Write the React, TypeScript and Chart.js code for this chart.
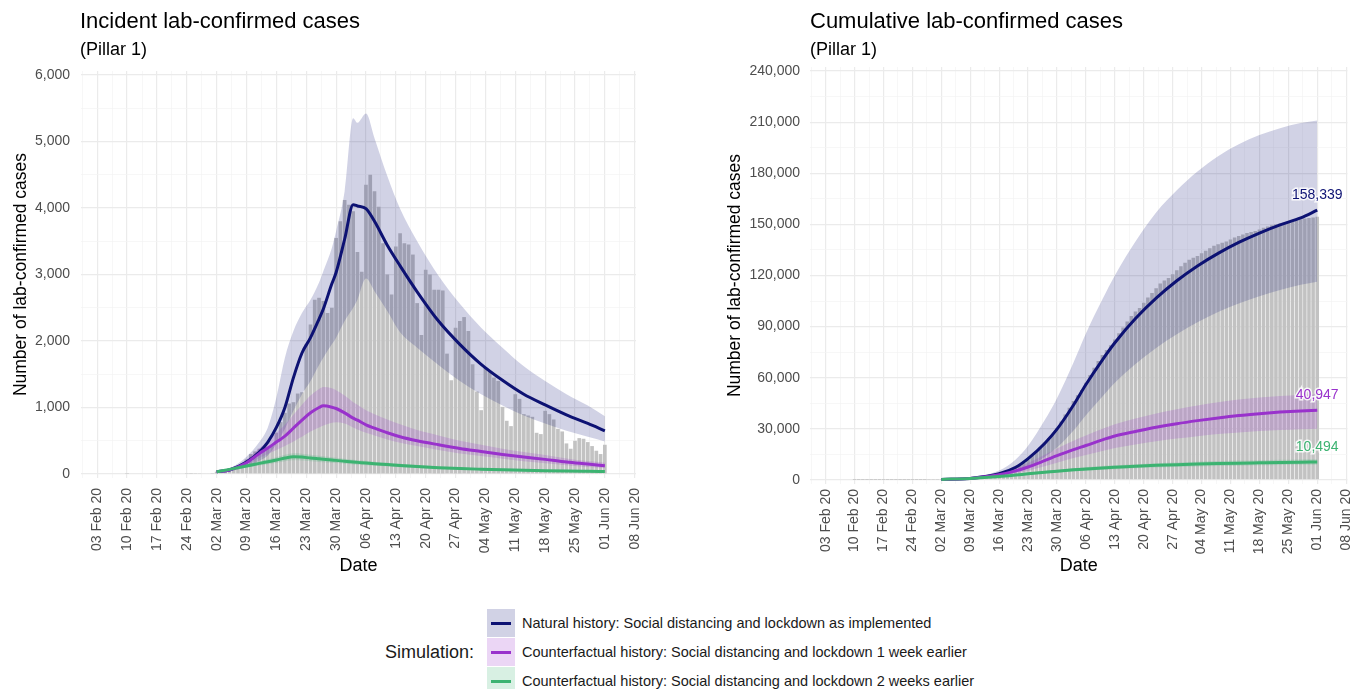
import React, { useEffect, useRef } from 'react';
import { Chart, registerables } from 'chart.js';
Chart.register(...registerables);

const FONT = '"Liberation Sans", Arial, Helvetica, sans-serif';
Chart.defaults.font.family = FONT;
Chart.defaults.color = '#4d4d4d';

// ---- x axis (days since 03 Feb 2020) ----
const tickDays = [0, 7, 14, 21, 28, 35, 42, 49, 56, 63, 70, 77, 84, 91, 98, 105, 112, 119, 126];
const tickLabels = ['03 Feb 20', '10 Feb 20', '17 Feb 20', '24 Feb 20', '02 Mar 20', '09 Mar 20', '16 Mar 20', '23 Mar 20', '30 Mar 20', '06 Apr 20', '13 Apr 20', '20 Apr 20', '27 Apr 20', '04 May 20', '11 May 20', '18 May 20', '25 May 20', '01 Jun 20', '08 Jun 20'];
const minorDays = [-3.5, 3.5, 10.5, 17.5, 24.5, 31.5, 38.5, 45.5, 52.5, 59.5, 66.5, 73.5, 80.5, 87.5, 94.5, 101.5, 108.5, 115.5, 122.5];
const X_MIN = -3.8;
const X_MAX = 126.3;

// ---- observed daily lab-confirmed cases, 03 Feb .. 01 Jun ----
const firstBarDay = 0;
const dailyCases = [
  0, 0, 0, 0, 0, 0, 0, 2, 0, 0, 0, 0, 0, 0, 0, 0, 0, 0, 0, 0, 0, 3, 2, 4, 5, 8, 10, 15,
  35, 45, 55, 70, 95, 100, 110,
  220, 300, 340, 380, 400, 380, 420,
  620, 780, 920, 1060, 1080, 1210, 1230,
  1950, 2250, 2620, 2650, 2600, 2420, 2500,
  3550, 3800, 4120, 4050, 3950, 3340, 3040,
  4350, 4500, 4250, 4020, 3470, 3000, 2700,
  3420, 3620, 3470, 3450, 3300, 2570, 2090,
  3070, 3000, 2770, 2770, 2760, 1810, 1410,
  2200, 2300, 2360, 2150, 1650, 1240, 960,
  1600, 1550, 1450, 1400, 1010, 800, 720,
  1200, 1130, 900, 880, 860, 620, 600,
  950, 900, 820, 680, 640, 460, 380,
  500, 540, 530, 480, 420, 350, 300,
  440,
];

// ---- simulated incidence (left panel) ----
const modelDays = [28, 31, 35, 38, 40, 42, 44, 46, 48, 50, 52, 53, 55, 56, 58, 60, 61, 63, 65, 68, 71, 75, 80, 85, 90, 95, 100, 105, 110, 115, 119];
const naturalMid = [35, 60, 180, 330, 480, 700, 1000, 1450, 1820, 2050, 2330, 2480, 2860, 3030, 3530, 4050, 4030, 3990, 3800, 3440, 3130, 2740, 2300, 1950, 1650, 1410, 1200, 1040, 890, 760, 650];
const naturalLow = [25, 40, 110, 200, 280, 450, 680, 950, 1200, 1400, 1640, 1750, 1950, 2050, 2300, 2500, 2620, 2940, 2750, 2450, 2130, 1900, 1640, 1400, 1200, 1030, 880, 760, 650, 560, 490];
const naturalHigh = [45, 85, 260, 480, 700, 1150, 1750, 2150, 2420, 2620, 2880, 3050, 3400, 3650, 4250, 5350, 5280, 5420, 5050, 4480, 3990, 3500, 2980, 2560, 2200, 1900, 1620, 1400, 1200, 1030, 870];
const week1Mid = [35, 60, 170, 310, 390, 480, 570, 690, 810, 920, 1000, 1025, 1005, 985, 920, 840, 810, 740, 690, 620, 560, 500, 440, 385, 340, 295, 255, 220, 180, 150, 125];
const week1Low = [25, 45, 130, 240, 300, 360, 420, 490, 560, 640, 700, 730, 770, 780, 760, 700, 670, 620, 580, 520, 470, 420, 360, 310, 270, 230, 190, 160, 130, 105, 90];
const week1High = [45, 80, 220, 390, 500, 620, 740, 890, 1040, 1180, 1280, 1310, 1290, 1260, 1180, 1080, 1040, 960, 900, 820, 750, 660, 580, 500, 440, 380, 330, 285, 235, 195, 170];
const week2Mid = [35, 70, 120, 160, 185, 210, 240, 260, 255, 240, 228, 222, 210, 205, 192, 180, 175, 165, 155, 142, 128, 112, 95, 82, 72, 63, 55, 49, 44, 40, 37];
const week2Low = [28, 56, 96, 128, 148, 168, 192, 208, 204, 192, 182, 178, 168, 164, 154, 144, 140, 132, 124, 114, 102, 90, 76, 66, 58, 50, 44, 39, 35, 32, 30];
const week2High = [42, 84, 144, 192, 222, 252, 288, 312, 306, 288, 274, 266, 252, 246, 230, 216, 210, 198, 186, 170, 154, 134, 114, 98, 86, 76, 66, 59, 53, 48, 44];

// ---- simulated cumulative (right panel) ----
const cumDays = [28, 35, 42, 46, 49, 53, 56, 60, 63, 67, 70, 75, 80, 85, 90, 95, 100, 105, 110, 115, 119];
const naturalCumMid = [300, 900, 3600, 7400, 12500, 21400, 29800, 44000, 56000, 70500, 80500, 94700, 106700, 116900, 125600, 133000, 139400, 144900, 149700, 153800, 158339];
const naturalCumLow = [200, 600, 2200, 4500, 7500, 13500, 19000, 29000, 38000, 49000, 57000, 68000, 77500, 85500, 92500, 98500, 103500, 107800, 111500, 114500, 116300];
const naturalCumHigh = [400, 1300, 5500, 12000, 20000, 35000, 48000, 69000, 86000, 106000, 120000, 140000, 157000, 170000, 181000, 190000, 197000, 202500, 206500, 209500, 211000];
const week1CumMid = [300, 880, 3100, 5300, 7600, 11300, 14200, 17800, 20200, 23500, 25800, 28400, 30900, 33000, 34800, 36400, 37800, 38900, 39800, 40500, 40947];
const week1CumLow = [250, 680, 2300, 3800, 5400, 8000, 10100, 12800, 14600, 17000, 18700, 20800, 22700, 24300, 25700, 26900, 27900, 28700, 29300, 29800, 30100];
const week1CumHigh = [360, 1100, 4000, 7000, 10000, 14800, 18500, 23000, 26000, 30000, 32700, 36000, 39000, 41500, 43700, 45600, 47200, 48400, 49300, 49900, 50300];
const week2CumMid = [300, 850, 1950, 2850, 3600, 4500, 5150, 5900, 6400, 7050, 7450, 8050, 8550, 8950, 9300, 9600, 9850, 10050, 10250, 10400, 10494];
const week2CumLow = [250, 720, 1650, 2420, 3060, 3820, 4370, 5010, 5440, 5990, 6330, 6840, 7270, 7600, 7900, 8160, 8370, 8540, 8710, 8840, 8920];
const week2CumHigh = [350, 980, 2250, 3280, 4140, 5180, 5920, 6790, 7360, 8110, 8570, 9260, 9830, 10290, 10700, 11040, 11330, 11560, 11790, 11960, 12070];

// ---- y ticks ----
const leftYMajor = [0, 1000, 2000, 3000, 4000, 5000, 6000];
const leftYMinor = [500, 1500, 2500, 3500, 4500, 5500];
const rightYMajor = [0, 30000, 60000, 90000, 120000, 150000, 180000, 210000, 240000];
const rightYMinor = [15000, 45000, 75000, 105000, 135000, 165000, 195000, 225000];

// ---- legend ----
const legendLabels = [
  'Natural history: Social distancing and lockdown as implemented',
  'Counterfactual history: Social distancing and lockdown 1 week earlier',
  'Counterfactual history: Social distancing and lockdown 2 weeks earlier',
];

const NAVY = '#0d1273';
const PURPLE = '#9932cc';
const GREEN = '#3cb371';
const NAVY_BAND = 'rgba(13,18,115,0.19)';
const PURPLE_BAND = 'rgba(153,50,204,0.2)';
const GREEN_BAND = 'rgba(60,179,113,0.2)';
const BAR_COLOR = '#c2c2c2';
const GRID_MAJOR = '#ebebeb';
const GRID_MINOR = '#f3f3f3';

type Scen = { lo: number[]; mid: number[]; hi: number[]; line: string; band: string };

const pts = (xs: number[], ys: number[]) => xs.map((x, i) => ({ x, y: ys[i] }));

function buildDatasets(barY: number[], days: number[], scens: Scen[], endLabels: boolean) {
  const ds: any[] = [
    {
      type: 'bar',
      data: barY.map((y, i) => ({ x: firstBarDay + i, y })),
      backgroundColor: BAR_COLOR,
      barPercentage: 1,
      categoryPercentage: 0.86,
      order: 10,
    },
  ];
  scens.forEach((s, k) => {
    ds.push({
      type: 'line', data: pts(days, s.lo), borderColor: 'rgba(0,0,0,0)', borderWidth: 0,
      pointRadius: 0, fill: false, order: 6 - k, cubicInterpolationMode: 'monotone',
    });
    ds.push({
      type: 'line', data: pts(days, s.hi), borderColor: 'rgba(0,0,0,0)', borderWidth: 0,
      pointRadius: 0, fill: '-1', backgroundColor: s.band, order: 6 - k, cubicInterpolationMode: 'monotone',
    });
  });
  scens.forEach((s, k) => {
    ds.push({
      type: 'line', data: pts(days, s.mid), borderColor: s.line, borderWidth: 3, pointRadius: 0,
      fill: false, order: 3 - k, cubicInterpolationMode: 'monotone', endLabel: endLabels,
    });
  });
  return ds;
}

const endLabelPlugin = {
  id: 'endLabels',
  afterDatasetsDraw(chart: any) {
    const ctx = chart.ctx;
    chart.data.datasets.forEach((ds: any, i: number) => {
      if (!ds.endLabel) return;
      const meta = chart.getDatasetMeta(i);
      const el = meta.data[meta.data.length - 1];
      const v = ds.data[ds.data.length - 1].y;
      const text = Number(v).toLocaleString('en-US');
      ctx.save();
      ctx.font = `14px ${FONT}`;
      ctx.textAlign = 'center';
      ctx.textBaseline = 'middle';
      ctx.lineWidth = 3;
      ctx.strokeStyle = 'rgba(255,255,255,0.85)';
      ctx.strokeText(text, el.x, el.y - 15);
      ctx.fillStyle = ds.borderColor;
      ctx.fillText(text, el.x, el.y - 15);
      ctx.restore();
    });
  },
};

type PanelOpts = {
  barY: number[]; days: number[]; scens: Scen[]; endLabels: boolean;
  yMin: number; yMax: number; yMajor: number[]; yMinor: number[];
  yAxisWidth: number; yTitlePad: number; yTickPad: number;
  xAxisHeight: number; xTickPad: number; padTop: number; padRight: number;
};

function buildConfig(o: PanelOpts): any {
  const xAll = [...minorDays, ...tickDays].sort((a, b) => a - b);
  const yAll = [...o.yMajor, ...o.yMinor].sort((a, b) => a - b);
  return {
    type: 'bar',
    data: { datasets: buildDatasets(o.barY, o.days, o.scens, o.endLabels) },
    plugins: [endLabelPlugin],
    options: {
      responsive: false,
      animation: false,
      events: [],
      layout: { padding: { top: o.padTop, right: o.padRight, left: 0, bottom: 0 } },
      plugins: { legend: { display: false }, tooltip: { enabled: false }, title: { display: false } },
      scales: {
        x: {
          type: 'linear', min: X_MIN, max: X_MAX, offset: false,
          afterBuildTicks: (s: any) => { s.ticks = xAll.map((v) => ({ value: v })); },
          afterFit: (s: any) => { s.height = o.xAxisHeight; },
          ticks: {
            autoSkip: false, minRotation: 90, maxRotation: 90, padding: o.xTickPad,
            color: '#4d4d4d', font: { size: 14 },
            callback: (v: any) => { const i = tickDays.indexOf(Number(v)); return i >= 0 ? tickLabels[i] : ''; },
          },
          grid: {
            offset: false, drawTicks: false,
            color: (c: any) => (c.tick && tickDays.includes(c.tick.value) ? GRID_MAJOR : GRID_MINOR),
            lineWidth: (c: any) => (c.tick && tickDays.includes(c.tick.value) ? 1.2 : 0.7),
          },
          border: { display: false },
          title: { display: true, text: 'Date', color: '#000', font: { size: 18 }, padding: { top: 0, bottom: 23 } },
        },
        y: {
          type: 'linear', min: o.yMin, max: o.yMax,
          afterBuildTicks: (s: any) => { s.ticks = yAll.map((v) => ({ value: v })); },
          afterFit: (s: any) => { s.width = o.yAxisWidth; },
          ticks: {
            padding: o.yTickPad, color: '#4d4d4d', font: { size: 14 },
            callback: (v: any) => (o.yMajor.includes(Number(v)) ? Number(v).toLocaleString('en-US') : ''),
          },
          grid: {
            drawTicks: false,
            color: (c: any) => (c.tick && o.yMajor.includes(c.tick.value) ? GRID_MAJOR : GRID_MINOR),
            lineWidth: (c: any) => (c.tick && o.yMajor.includes(c.tick.value) ? 1.2 : 0.7),
          },
          border: { display: false },
          title: {
            display: true, text: 'Number of lab-confirmed cases', color: '#000', font: { size: 17.5 },
            padding: { top: o.yTitlePad, bottom: 0 },
          },
        },
      },
    },
  };
}

function Panel({ left, width, height, cfg }: { left: number; width: number; height: number; cfg: any }) {
  const ref = useRef<HTMLCanvasElement | null>(null);
  useEffect(() => {
    if (!ref.current) return;
    const chart = new Chart(ref.current, cfg);
    return () => chart.destroy();
  }, [cfg]);
  return (
    <canvas
      ref={ref}
      width={width}
      height={height}
      style={{ position: 'absolute', left, top: 0, width, height }}
    />
  );
}

const cumulativeCases = dailyCases.reduce<number[]>((acc, v) => {
  acc.push((acc.length ? acc[acc.length - 1] : 0) + v);
  return acc;
}, []);

const leftCfg = buildConfig({
  barY: dailyCases,
  days: modelDays,
  scens: [
    { lo: naturalLow, mid: naturalMid, hi: naturalHigh, line: NAVY, band: NAVY_BAND },
    { lo: week1Low, mid: week1Mid, hi: week1High, line: PURPLE, band: PURPLE_BAND },
    { lo: week2Low, mid: week2Mid, hi: week2High, line: GREEN, band: GREEN_BAND },
  ],
  endLabels: false,
  yMin: -60, yMax: 6060, yMajor: leftYMajor, yMinor: leftYMinor,
  yAxisWidth: 81, yTitlePad: 10.5, yTickPad: 11,
  xAxisHeight: 122, xTickPad: 10, padTop: 71, padRight: 54,
});

const rightCfg = buildConfig({
  barY: cumulativeCases,
  days: cumDays,
  scens: [
    { lo: naturalCumLow, mid: naturalCumMid, hi: naturalCumHigh, line: NAVY, band: NAVY_BAND },
    { lo: week1CumLow, mid: week1CumMid, hi: week1CumHigh, line: PURPLE, band: PURPLE_BAND },
    { lo: week2CumLow, mid: week2CumMid, hi: week2CumHigh, line: GREEN, band: GREEN_BAND },
  ],
  endLabels: true,
  yMin: -2400, yMax: 242400, yMajor: rightYMajor, yMinor: rightYMinor,
  yAxisWidth: 126, yTitlePad: 40.5, yTickPad: 10,
  xAxisHeight: 116, xTickPad: 5, padTop: 67, padRight: 18,
});

const legendColors = [
  { line: NAVY, band: NAVY_BAND },
  { line: PURPLE, band: PURPLE_BAND },
  { line: GREEN, band: GREEN_BAND },
];

export default function App() {
  const txt = { position: 'absolute' as const, whiteSpace: 'nowrap' as const, lineHeight: 1, color: '#000' };
  return (
    <div style={{ position: 'absolute', left: 0, top: 0, width: 1368, height: 689, background: '#fff', overflow: 'hidden', fontFamily: FONT }}>
      <Panel left={0} width={690} height={600} cfg={leftCfg} />
      <Panel left={684} width={684} height={600} cfg={rightCfg} />
      <div style={{ ...txt, left: 80, top: 10, fontSize: 22 }}>Incident lab-confirmed cases</div>
      <div style={{ ...txt, left: 80, top: 40, fontSize: 18 }}>(Pillar 1)</div>
      <div style={{ ...txt, left: 810, top: 10, fontSize: 22 }}>Cumulative lab-confirmed cases</div>
      <div style={{ ...txt, left: 810, top: 40, fontSize: 18 }}>(Pillar 1)</div>
      <div style={{ ...txt, left: 385, top: 643, fontSize: 18, color: '#1a1a1a' }}>Simulation:</div>
      {legendLabels.map((lab, i) => (
        <div key={lab} style={{ position: 'absolute', left: 487, top: 609 + i * 29, width: 520, height: 28 }}>
          <div style={{ position: 'absolute', left: 0, top: 0, width: 28, height: 28, background: legendColors[i].band }}>
            <div style={{ position: 'absolute', left: 4, top: 12.5, width: 20, height: 3, background: legendColors[i].line }} />
          </div>
          <div style={{ ...txt, left: 35, top: 7, fontSize: 14.5, color: '#1a1a1a' }}>{lab}</div>
        </div>
      ))}
    </div>
  );
}
